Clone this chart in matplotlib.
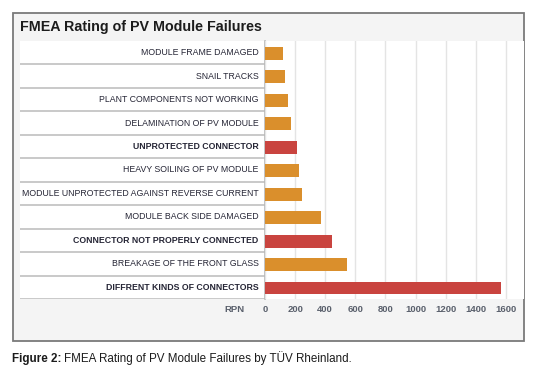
import matplotlib
matplotlib.use("Agg")
import matplotlib.pyplot as plt
from matplotlib.patches import Rectangle

plt.rcParams["font.family"] = ["Liberation Sans", "DejaVu Sans"]

# failure modes, top to bottom, with their RPN and whether highlighted (connector issues)
failures = [
    "MODULE FRAME DAMAGED",
    "SNAIL TRACKS",
    "PLANT COMPONENTS NOT WORKING",
    "DELAMINATION OF PV MODULE",
    "UNPROTECTED CONNECTOR",
    "HEAVY SOILING OF PV MODULE",
    "MODULE UNPROTECTED AGAINST REVERSE CURRENT",
    "MODULE BACK SIDE DAMAGED",
    "CONNECTOR NOT PROPERLY CONNECTED",
    "BREAKAGE OF THE FRONT GLASS",
    "DIFFRENT KINDS OF CONNECTORS",
]
rpn = [119, 132, 152, 172, 211, 224, 244, 370, 442, 548, 1571]
connector = [False, False, False, False, True, False, False, False, True, False, True]
xticks = [0, 200, 400, 600, 800, 1000, 1200, 1400, 1600]

ORANGE = "#da8f2c"
RED = "#c9443f"
W, H = 546, 390


def box(x0, y0, x1, y1):
    """pixel box (top-left origin) -> figure fraction rect"""
    return [x0 / W, 1 - y1 / H, (x1 - x0) / W, (y1 - y0) / H]


fig = plt.figure(figsize=(W / 100, H / 100), dpi=100)
fig.patch.set_facecolor("white")

# outer panel
fig.patches.append(Rectangle((12.5 / W, 1 - 341 / H), 511 / W, 328 / H,
                             transform=fig.transFigure, facecolor="#f4f4f4",
                             edgecolor="#7a7a7a", lw=1.3, zorder=-10))
fig.text(20.5 / W, 1 - 31.5 / H, "FMEA Rating of PV Module Failures",
         fontsize=10.3, fontweight="bold", color="#1c1c1c", va="baseline")

n = len(failures)
top, bot = 41, 299

# label column
axl = fig.add_axes(box(20, top, 265, bot))
axl.set_xlim(0, 1)
axl.set_ylim(n, 0)
axl.set_facecolor("white")
axl.set_xticks([])
axl.set_yticks([])
for s in ("top", "left", "bottom"):
    axl.spines[s].set_visible(False)
axl.spines["right"].set_color("#b8b8b8")
axl.spines["right"].set_linewidth(1.2)
for i in range(1, n):
    axl.axhline(i, color="#c9c9c9", lw=1.4)
axl.axhline(n, color="#c9c9c9", lw=1.4)
for i, (lab, hl) in enumerate(zip(failures, connector)):
    axl.text(0.973, i + 0.5, lab, ha="right", va="center", fontsize=6.3,
             fontweight="bold" if hl else "normal", color="#262636")

# bars
ax = fig.add_axes(box(265, top, 523.5, bot))
ax.set_facecolor("white")
pos = list(range(n))
cols = [RED if hl else ORANGE for hl in connector]
ax.barh([p + 0.53 for p in pos], rpn, height=0.55, color=cols, zorder=3)
ax.set_ylim(n, 0)
ax.set_xlim(0, 258.5 / 0.1505)
ax.set_xticks(xticks)
ax.set_xticklabels([str(t) for t in xticks], fontsize=6.8, fontweight="bold",
                   color="#5a606c")
ax.tick_params(axis="x", length=0, pad=4)
ax.set_yticks([])
ax.grid(axis="x", color="#e4e4e4", lw=1.0, zorder=0)
for s in ax.spines.values():
    s.set_visible(False)
fig.text(234.5 / W, 1 - 309 / H, "RPN", fontsize=6.8, fontweight="bold",
         color="#5a606c", ha="center", va="center")

# caption
cap = fig.text(12.5 / W, 1 - 362 / H, "Figure 2:", fontsize=8.4,
               fontweight="bold", color="#1c1c1c", va="baseline")
fig.canvas.draw()
bb = cap.get_window_extent(fig.canvas.get_renderer())
fig.text(bb.x1 / W + 2.5 / W, 1 - 362 / H,
         "FMEA Rating of PV Module Failures by TÜV Rheinland.",
         fontsize=8.4, color="#1c1c1c", va="baseline")

fig.savefig("out.png", dpi=100)
